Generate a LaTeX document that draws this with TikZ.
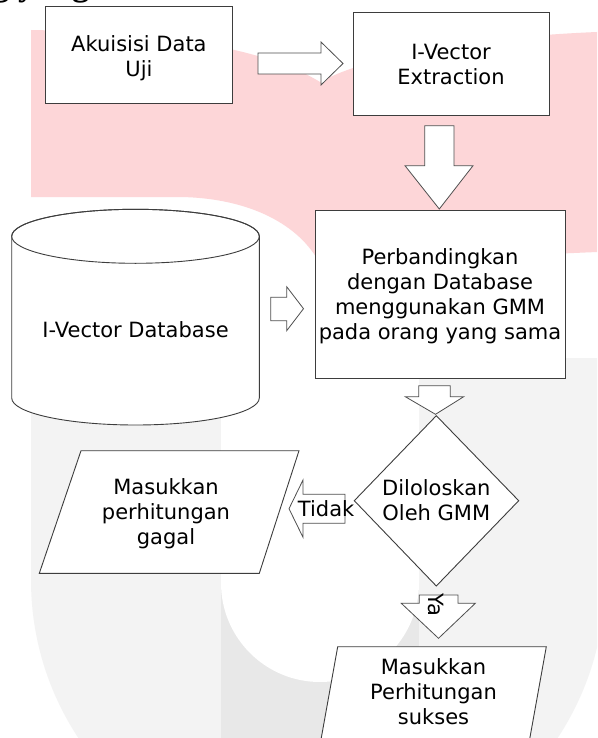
\documentclass[tikz,border=0pt]{standalone}
\usepackage{fontspec}
\setmainfont{DejaVu Sans}
\newfontfamily\headfont{Liberation Serif}
\definecolor{pinkwm}{HTML}{FDD6D8}
\definecolor{greywm}{HTML}{F3F3F3}
\definecolor{greywmdark}{HTML}{E8E8E8}
\definecolor{edgecol}{HTML}{3D3D3D}
\definecolor{arrowcol}{HTML}{4F4F4F}
\begin{document}
\begin{tikzpicture}[x=1pt,y=-1pt,
  txt/.style={font=\fontsize{21}{25}\selectfont, text=black, inner sep=0pt, align=center},
  boxshape/.style={draw=edgecol, fill=white, line width=1pt, rectangle, inner sep=0pt},
  shapeline/.style={draw=edgecol, fill=white, line width=0.9pt, line join=miter},
  blockarrow/.style={draw=arrowcol, fill=white, line width=0.8pt, line join=miter}]
\useasboundingbox (0,0) rectangle (597,738);
\clip (0,0) rectangle (597,738);
\fill[white] (0,0) rectangle (597,738);
% watermark: pink top part
\fill[pinkwm] (31,30) .. controls (150,32) and (260,45) .. (320,82)
  .. controls (380,50) and (500,36) .. (597,32) -- (597,252) -- (320,264)
  .. controls (300,225) and (250,198) .. (180,197) -- (31,197) -- cycle;
% watermark: grey U
\fill[greywm] (31,358) -- (31,580) arc[start angle=180,end angle=360,radius=287pt] -- (605,358) -- cycle;
\begin{scope}
  \clip (31,358) -- (31,580) arc[start angle=180,end angle=360,radius=287pt] -- (605,358) -- cycle;
  \fill[greywmdark] (221,583) rectangle (419,760);
\end{scope}
\fill[white] (221,340) -- (221,583) arc[start angle=180,end angle=360,radius=99pt] -- (419,340) -- cycle;
% cut-off heading at the top
\node[anchor=base west, inner sep=0pt, font=\headfont\bfseries\fontsize{34.7}{40}\selectfont] (heading) at (-8,-4.5) {g yang};
% boxes
\node[boxshape, minimum width=187.7pt, minimum height=97.3pt] (akuisisiBox) at (138.85,55.35) {};
\node[boxshape, minimum width=196pt, minimum height=103pt] (ivextBox) at (451,64.5) {};
\node[boxshape, minimum width=250pt, minimum height=167.3pt] (perbBox) at (440,294.35) {};
% cylinder
\path[shapeline] (11.7,236.3) -- (11.7,398) arc[start angle=180,end angle=360,x radius=123.8pt,y radius=27pt]
  -- (259.3,236.3) arc[start angle=0,end angle=180,x radius=123.8pt,y radius=27pt] -- cycle;
\draw[edgecol, line width=0.9pt] (135.5,236.3) ellipse[x radius=123.8pt, y radius=27pt];
% parallelogram gagal
\path[shapeline] (81,450.7) -- (299,450.7) -- (259.3,573.3) -- (39.3,573.3) -- cycle;
% diamond
\path[shapeline] (436.3,415.7) -- (518.7,500.7) -- (436.3,586) -- (354.3,500.7) -- cycle;
% parallelogram sukses
\path[shapeline] (337.7,646.7) -- (546.3,646.7) -- (524.1,770) -- (315.5,770) -- cycle;
% block arrows
\path[blockarrow] (258,53) -- (321,53) -- (321,42) -- (343,63.5) -- (321,85) -- (321,74) -- (258,74) -- cycle;
\path[blockarrow] (424.7,125.7) -- (454,125.7) -- (454,165.7) -- (473,165.7) -- (439.3,209) -- (405,165.7) -- (424.7,165.7) -- cycle;
\path[blockarrow] (270.7,297.3) -- (286.7,297.3) -- (286.7,286.7) -- (303.5,308.7) -- (286.7,330.7) -- (286.7,320.7) -- (270.7,320.7) -- cycle;
\path[blockarrow] (418.7,385.7) -- (450.3,385.7) -- (450.3,396.7) -- (463.7,396.7) -- (435.5,414.3) -- (405.3,396.7) -- (418.7,396.7) -- cycle;
\path[blockarrow] (345,494.3) -- (303,494.3) -- (303,480) -- (289,508.7) -- (303,537.3) -- (303,523.3) -- (345,523.3) -- cycle;
\path[blockarrow] (419.3,595) -- (458,595) -- (458,603.3) -- (475.3,603.3) -- (438.5,638.3) -- (401.3,603.3) -- (419.3,603.3) -- cycle;
% texts
\node[txt] (akuisisi) at (138.9,58.3) {Akuisisi Data\\Uji};
\node[txt] (ivext) at (451,64.9) {I-Vector\\Extraction};
\node[txt] (perb) at (440,296.7) {Perbandingkan\\dengan Database\\menggunakan GMM\\pada orang yang sama};
\node[txt] (db) at (135.5,329.7) {I-Vector Database};
\node[txt] (gagal) at (166,514) {Masukkan\\perhitungan\\gagal};
\node[txt] (cek) at (436.3,499.8) {Diloloskan\\Oleh GMM};
\node[txt] (sukses) at (433.5,692) {Masukkan\\Perhitungan\\sukses};
\node[txt, anchor=base west] (tidak) at (297.7,516) {Tidak};
\node[txt, anchor=base west, rotate=-90] (ya) at (428,593) {Ya};
\end{tikzpicture}
\end{document}
